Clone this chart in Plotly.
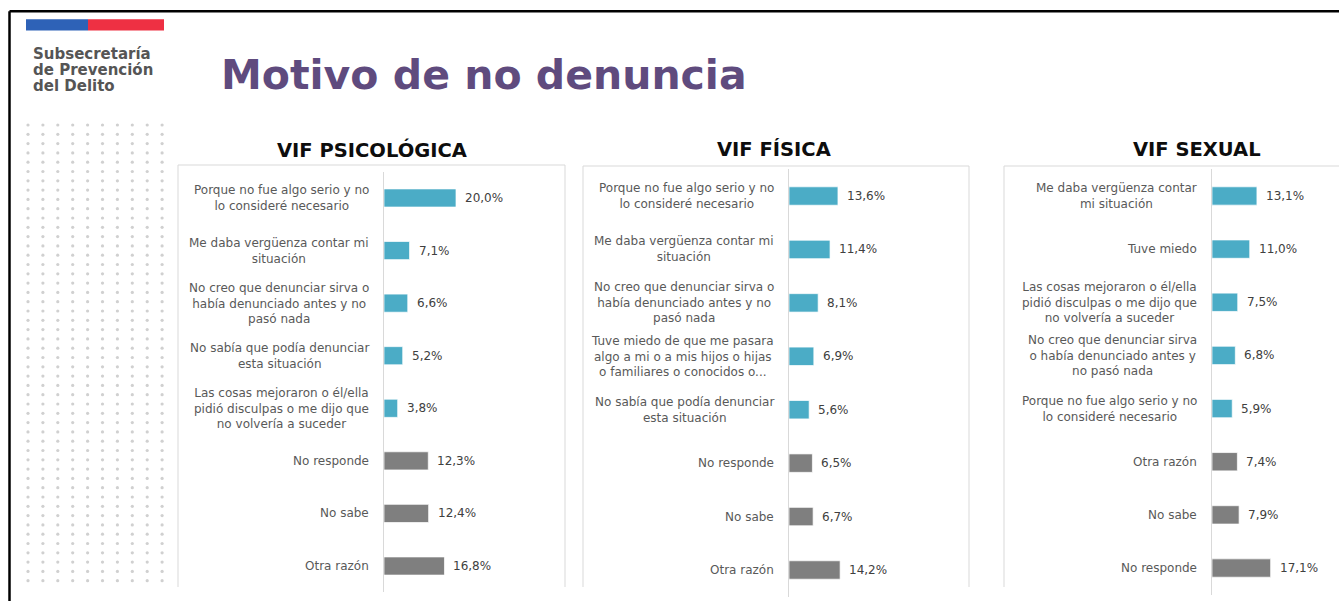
import plotly.graph_objects as go

SCREEN_W, SCREEN_H = 1339, 601
OFF = 0
W, H = SCREEN_W - OFF, SCREEN_H - OFF

# ---------------- data ----------------
psico_labels = [
    "Porque no fue algo serio y no<br>lo consideré necesario",
    "Me daba vergüenza contar mi<br>situación",
    "No creo que denunciar sirva o<br>había denunciado antes y no<br>pasó nada",
    "No sabía que podía denunciar<br>esta situación",
    "Las cosas mejoraron o él/ella<br>pidió disculpas o me dijo que<br>no volvería a suceder",
    "No responde",
    "No sabe",
    "Otra razón",
]
psico_values = [20.0, 7.1, 6.6, 5.2, 3.8, 12.3, 12.4, 16.8]
psico_kinds = ["motivo"] * 5 + ["otro"] * 3

fisica_labels = [
    "Porque no fue algo serio y no<br>lo consideré necesario",
    "Me daba vergüenza contar mi<br>situación",
    "No creo que denunciar sirva o<br>había denunciado antes y no<br>pasó nada",
    "Tuve miedo de que me pasara<br>algo a mi o a mis hijos o hijas<br>o familiares o conocidos o...",
    "No sabía que podía denunciar<br>esta situación",
    "No responde",
    "No sabe",
    "Otra razón",
]
fisica_values = [13.6, 11.4, 8.1, 6.9, 5.6, 6.5, 6.7, 14.2]
fisica_kinds = ["motivo"] * 5 + ["otro"] * 3

sexual_labels = [
    "Me daba vergüenza contar<br>mi situación",
    "Tuve miedo",
    "Las cosas mejoraron o él/ella<br>pidió disculpas o me dijo que<br>no volvería a suceder",
    "No creo que denunciar sirva<br>o había denunciado antes y<br>no pasó nada",
    "Porque no fue algo serio y no<br>lo consideré necesario",
    "Otra razón",
    "No sabe",
    "No responde",
]
sexual_values = [13.1, 11.0, 7.5, 6.8, 5.9, 7.4, 7.9, 17.1]
sexual_kinds = ["motivo"] * 5 + ["otro"] * 3

panel_titles = ["VIF PSICOLÓGICA", "VIF FÍSICA", "VIF SEXUAL"]
main_title = "Motivo de no denuncia"
logo_lines = ["Subsecretaría", "de Prevención", "del Delito"]

# ---------------- style ----------------
TEAL = "#4BACC6"
GRAY = "#7F7F7F"
LABEL_C = "#595959"
VALUE_C = "#404040"
BOX_C = "#D9D9D9"
FONT = "DejaVu Sans"
KIND_COLORS = {"motivo": TEAL, "otro": GRAY}


def fx(x):
    return (x - OFF) / W


def fy(y):
    return 1 - (y - OFF) / H


panels = [
    dict(labels=psico_labels, values=psico_values, kinds=psico_kinds,
         ax0=384, ax1=565, ppu=3.6, ytop=171.7, ybot=592.3,
         tx=371.5, box=(178, 565, 165)),
    dict(labels=fisica_labels, values=fisica_values, kinds=fisica_kinds,
         ax0=789, ax1=969, ppu=3.6, ytop=169.3, ybot=596.7,
         tx=773.5, box=(583, 969, 166)),
    dict(labels=sexual_labels, values=sexual_values, kinds=sexual_kinds,
         ax0=1212, ax1=1339, ppu=3.43, ytop=169.4, ybot=594.6,
         tx=1196.5, box=(1004, None, 166)),
]

fig = go.Figure()
annotations = []
shapes = []
layout_axes = {}

# decorative dot grid (pixel-space hidden axis) - drawn first
dot_x, dot_y = [], []
for r in range(50):
    for c in range(10):
        dot_x.append(28 + c * 14.9)
        dot_y.append(125 + r * 9.3)
fig.add_trace(go.Scatter(
    x=dot_x, y=dot_y, mode="markers", xaxis="x4", yaxis="y4",
    marker=dict(size=3.2, color="#D0D0D0"), hoverinfo="skip",
))
layout_axes["xaxis4"] = dict(domain=[0, 1], range=[OFF, SCREEN_W], visible=False,
                             anchor="y4", fixedrange=True)
layout_axes["yaxis4"] = dict(domain=[0, 1], range=[SCREEN_H, OFF], visible=False,
                             anchor="x4", fixedrange=True)

for i, p in enumerate(panels, start=1):
    xa = "x" if i == 1 else f"x{i}"
    ya = "y" if i == 1 else f"y{i}"
    fig.add_trace(go.Bar(
        x=p["values"], y=p["labels"], orientation="h",
        marker=dict(color=[KIND_COLORS[k] for k in p["kinds"]],
                    line=dict(color="rgba(255,255,255,0.7)", width=1)),
        width=0.345, xaxis=xa, yaxis=ya, hoverinfo="x+y",
    ))
    n = len(p["labels"])
    layout_axes[f"xaxis{i}" if i > 1 else "xaxis"] = dict(
        domain=[fx(p["ax0"]), min(1.0, fx(p["ax1"]))],
        range=[0, (p["ax1"] - p["ax0"]) / p["ppu"]],
        visible=False, anchor=ya, fixedrange=True,
    )
    layout_axes[f"yaxis{i}" if i > 1 else "yaxis"] = dict(
        domain=[max(0.0, fy(p["ybot"])), fy(p["ytop"])],
        type="category", categoryorder="array", categoryarray=p["labels"],
        range=[n - 0.5, -0.5], anchor=xa,
        showticklabels=False, showgrid=False, zeroline=False, ticks="",
        showline=True, linecolor=BOX_C, linewidth=1, fixedrange=True,
    )
    for lab, val in zip(p["labels"], p["values"]):
        annotations.append(dict(
            xref=xa, yref=ya, x=0, y=lab, text=lab, showarrow=False,
            xanchor="right", yanchor="middle", align="center", xshift=-13,
            font=dict(family=FONT, size=12, color=LABEL_C),
        ))
        annotations.append(dict(
            xref=xa, yref=ya, x=val, y=lab,
            text=f"{val:.1f}".replace(".", ",") + "%", showarrow=False,
            xanchor="left", yanchor="middle", xshift=7,
            font=dict(family=FONT, size=12, color=VALUE_C),
        ))
    # panel title
    annotations.append(dict(
        xref="paper", yref="paper", x=fx(p["tx"]), y=fy(149.5),
        text=f"<b>{panel_titles[i-1]}</b>", showarrow=False,
        xanchor="center", yanchor="middle",
        font=dict(family=FONT, size=19.5, color="#0D0D0D"),
    ))
    # panel box
    bl, br, bt = p["box"]
    right = br if br is not None else SCREEN_W
    shapes.append(dict(type="line", xref="paper", yref="paper",
                       x0=fx(bl), x1=fx(right), y0=fy(bt), y1=fy(bt),
                       line=dict(color=BOX_C, width=1)))
    shapes.append(dict(type="line", xref="paper", yref="paper",
                       x0=fx(bl), x1=fx(bl), y0=fy(bt), y1=fy(587),
                       line=dict(color=BOX_C, width=1)))
    if br is not None:
        shapes.append(dict(type="line", xref="paper", yref="paper",
                           x0=fx(br), x1=fx(br), y0=fy(bt), y1=fy(587),
                           line=dict(color=BOX_C, width=1)))

# outer black frame
shapes.append(dict(type="line", xref="paper", yref="paper",
                   x0=fx(9.5), x1=1, y0=fy(11.3), y1=fy(11.3),
                   line=dict(color="#000000", width=2.5)))
shapes.append(dict(type="line", xref="paper", yref="paper",
                   x0=fx(9.5), x1=fx(9.5), y0=fy(11.3), y1=0,
                   line=dict(color="#000000", width=2.5)))
# logo bar
shapes.append(dict(type="rect", xref="paper", yref="paper",
                   x0=fx(26), x1=fx(88), y0=fy(30.5), y1=fy(19.3),
                   line=dict(width=0), fillcolor="#2E62B7"))
shapes.append(dict(type="rect", xref="paper", yref="paper",
                   x0=fx(88), x1=fx(164), y0=fy(30.5), y1=fy(19.3),
                   line=dict(width=0), fillcolor="#EE3043"))

for line_txt, yc in zip(logo_lines, [53.5, 70, 86.5]):
    annotations.append(dict(
        xref="paper", yref="paper", x=fx(31), y=fy(yc),
        text=f"<b>{line_txt}</b>", showarrow=False,
        xanchor="left", yanchor="middle",
        font=dict(family=FONT, size=15, color="#555555"),
    ))

annotations.append(dict(
    xref="paper", yref="paper", x=fx(219), y=fy(75),
    text=f"<b>{main_title}</b>", showarrow=False,
    xanchor="left", yanchor="middle",
    font=dict(family=FONT, size=41, color="#5F4B7E"),
))

fig.update_layout(
    width=W, height=H, margin=dict(l=0, r=0, t=0, b=0),
    paper_bgcolor="white", plot_bgcolor="rgba(0,0,0,0)", showlegend=False,
    annotations=annotations, shapes=shapes,
    **layout_axes,
)

fig.write_html(
    "out.html",
    config={"displayModeBar": False},
    post_script="document.body.style.margin='0px';"
                "document.body.style.overflow='hidden';",
)
